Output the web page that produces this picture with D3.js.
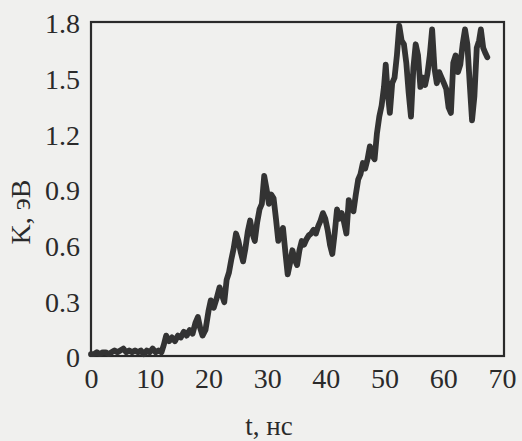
<!DOCTYPE html>
<html>
<head>
<meta charset="utf-8">
<script src="https://cdn.jsdelivr.net/npm/d3@7"></script>
<style>
  html, body { margin: 0; padding: 0; background: #f0f0ee; }
  svg { display: block; }
</style>
</head>
<body>
<svg id="chart" width="522" height="441"></svg>
<script>
// Kinetic energy K (eV) versus time t (ns)
const timeNs = [
  0, 0.5, 1, 1.5, 2, 2.5, 3, 3.5, 4, 4.5, 5, 5.5, 6, 6.5, 7, 7.5, 8, 8.5, 9, 9.5,
  10, 10.5, 11, 11.5, 12, 12.4, 12.8, 13.3, 13.8, 14.3, 14.8, 15.3, 15.8, 16.3, 16.8, 17.3,
  17.8, 18.2, 18.6, 19, 19.5, 20, 20.4, 20.9, 21.4, 21.9, 22.3, 22.7, 23.1, 23.5, 23.9, 24.3,
  24.7, 25.1, 25.5, 25.9, 26.3, 26.7, 27.1, 27.5, 27.9, 28.3, 28.7, 29.1, 29.5, 29.9, 30.3, 30.7,
  31.1, 31.5, 31.9, 32.3, 32.7, 33.1, 33.5, 33.9, 34.3, 34.7, 35.1, 35.5, 35.9, 36.3, 36.7, 37.1,
  37.5, 37.9, 38.3, 38.7, 39.1, 39.5, 39.9, 40.3, 40.7, 41.1, 41.5, 41.9, 42.3, 42.7, 43.1, 43.5,
  43.9, 44.3, 44.7, 45.1, 45.5, 45.9, 46.3, 46.7, 47.1, 47.5, 47.9, 48.3, 48.7, 49.1, 49.5, 49.9,
  50.2, 50.5, 50.9, 51.3, 51.7, 52.1, 52.5, 52.9, 53.3, 53.7, 54.1, 54.5, 54.9, 55.3, 55.7, 56.1,
  56.5, 56.9, 57.3, 57.7, 58.1, 58.5, 58.9, 59.3, 59.7, 60.1, 60.5, 60.9, 61.3, 61.7, 62.1, 62.5,
  62.9, 63.3, 63.7, 64.1, 64.5, 64.9, 65.3, 65.7, 66.1, 66.4, 66.8, 67.2, 67.5
];
const energyEv = [
  0.01, 0.01, 0.02, 0.01, 0.02, 0.02, 0.01, 0.02, 0.03, 0.02, 0.03, 0.04, 0.02, 0.03, 0.02, 0.03, 0.02, 0.03, 0.01, 0.03,
  0.02, 0.04, 0.02, 0.03, 0.02, 0.06, 0.11, 0.08, 0.10, 0.08, 0.11, 0.10, 0.13, 0.11, 0.14, 0.12,
  0.18, 0.21, 0.15, 0.11, 0.14, 0.24, 0.30, 0.26, 0.31, 0.37, 0.33, 0.29, 0.41, 0.45, 0.52, 0.58,
  0.66, 0.62, 0.56, 0.51, 0.58, 0.67, 0.73, 0.66, 0.62, 0.72, 0.79, 0.82, 0.97, 0.90, 0.82, 0.87,
  0.85, 0.74, 0.62, 0.66, 0.69, 0.56, 0.44, 0.50, 0.57, 0.52, 0.49, 0.57, 0.62, 0.60, 0.63, 0.65,
  0.66, 0.68, 0.66, 0.70, 0.73, 0.77, 0.74, 0.68, 0.60, 0.55, 0.66, 0.79, 0.74, 0.77, 0.72, 0.66,
  0.84, 0.80, 0.78, 0.87, 0.95, 0.98, 1.04, 1.01, 1.06, 1.13, 1.08, 1.06, 1.20, 1.29, 1.35, 1.45,
  1.57, 1.43, 1.31, 1.47, 1.50, 1.62, 1.78, 1.70, 1.68, 1.58, 1.42, 1.29, 1.55, 1.68, 1.62, 1.45,
  1.50, 1.46, 1.52, 1.62, 1.76, 1.55, 1.47, 1.53, 1.50, 1.47, 1.44, 1.34, 1.31, 1.58, 1.62, 1.53,
  1.57, 1.68, 1.76, 1.68, 1.47, 1.27, 1.40, 1.66, 1.70, 1.76, 1.66, 1.63, 1.61
];
const xTicks = [0, 10, 20, 30, 40, 50, 60, 70];
const yTicks = [0, 0.3, 0.6, 0.9, 1.2, 1.5, 1.8];
const yTickLabels = ["0", "0.3", "0.6", "0.9", "1.2", "1.5", "1.8"];
const xTitle = "t, нс";
const yTitle = "K, эВ";

const svg = d3.select("#chart");
const ink = "#2a2a2a";
const serif = "'Liberation Serif', 'Times New Roman', serif";

const plot = { left: 91, right: 504, top: 22, bottom: 356 };
const x = d3.scaleLinear().domain([0, 70]).range([plot.left, 502]);
const y = d3.scaleLinear().domain([0, 1.8]).range([plot.bottom, plot.top]);

// x tick labels
const xAxis = d3.axisBottom(x).tickValues(xTicks).tickSize(0).tickPadding(12).tickFormat(d3.format("d"));
const gx = svg.append("g").attr("transform", `translate(0,${plot.bottom})`).call(xAxis);
gx.select(".domain").remove();
gx.selectAll("text").attr("font-family", serif).attr("font-size", 28).attr("fill", ink);

// y tick labels
const yAxis = d3.axisLeft(y).tickValues(yTicks).tickSize(0).tickPadding(11)
  .tickFormat((d, i) => yTickLabels[i]);
const gy = svg.append("g").attr("transform", `translate(${plot.left},2)`).call(yAxis);
gy.select(".domain").remove();
gy.selectAll("text").attr("font-family", serif).attr("font-size", 28).attr("fill", ink);

// plot frame
svg.append("rect")
  .attr("x", plot.left).attr("y", plot.top)
  .attr("width", plot.right - plot.left).attr("height", plot.bottom - plot.top)
  .attr("fill", "none").attr("stroke", ink).attr("stroke-width", 2.2);

// energy curve
const points = timeNs.map((t, i) => [t, energyEv[i]]);
svg.append("path")
  .datum(points)
  .attr("fill", "none")
  .attr("stroke", "#333333")
  .attr("stroke-width", 5.8)
  .attr("stroke-linejoin", "round")
  .attr("stroke-linecap", "round")
  .attr("d", d3.line().x(d => x(d[0])).y(d => y(d[1])));

// axis titles
svg.append("text")
  .attr("x", 269).attr("y", 435)
  .attr("text-anchor", "middle")
  .attr("font-family", serif).attr("font-size", 27).attr("fill", ink)
  .text(xTitle);
svg.append("text")
  .attr("transform", "translate(30,212) rotate(-90)")
  .attr("text-anchor", "middle")
  .attr("font-family", serif).attr("font-size", 28).attr("fill", ink)
  .text(yTitle);
</script>
</body>
</html>
